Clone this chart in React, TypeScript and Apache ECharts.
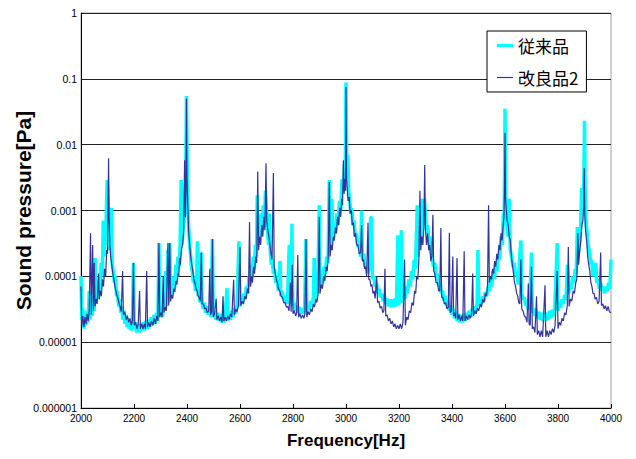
import React, { useEffect, useRef } from "react";
import * as echarts from "echarts";

const seriesNames = ["従来品", "改良品2"];
const yTickLabels = ["1", "0.1", "0.01", "0.001", "0.0001", "0.00001", "0.000001"];
const xMin = 2000;
const xMax = 4000;
const xStep = 200;

// 従来品 (conventional) : [frequency Hz, sound pressure Pa]
const conventional: [number, number][] = [
  [2000,1.0e-4],[2003,2.2e-5],[2007,3.2e-5],[2011,1.6e-5],[2015,2.6e-5],[2019,1.8e-5],[2023,3.0e-5],[2027,2.0e-5],[2031,6e-5],[2034,2.2e-5],
  [2038,3.5e-5],[2042,2.5e-5],[2046,5e-5],[2050,3.0e-5],[2053,1.9e-4],[2056,4e-5],[2060,6e-5],[2064,4.5e-5],[2068,9e-5],[2072,6e-5],
  [2076,1.6e-4],[2080,1e-4],[2084,7e-4],[2087,2e-4],[2090,4e-4],[2093,3e-4],[2096,1.2e-3],[2099,2.9e-3],[2102,1.5e-3],[2105,4e-4],
  [2108,2.5e-4],[2112,3e-4],[2115,1.1e-3],[2118,1.5e-4],[2122,1.2e-4],[2126,8e-5],[2130,1e-4],[2134,5e-5],[2138,6e-5],[2142,3.5e-5],
  [2146,4.5e-5],[2150,2.8e-5],[2154,3.5e-5],[2158,2.2e-5],[2162,3e-5],[2166,1.9e-5],[2170,2.6e-5],[2174,1.7e-5],[2178,2.3e-5],[2182,1.6e-5],
  [2186,2.2e-5],[2190,1.5e-5],[2194,2.0e-5],[2198,1.6e-4],[2201,1.6e-5],[2205,2.0e-5],[2210,1.4e-5],[2215,1.9e-5],[2220,1.4e-5],[2225,1.9e-5],
  [2230,1.5e-5],[2235,2e-5],[2240,1.5e-5],[2245,2.1e-5],[2250,1.6e-5],[2255,2.2e-5],[2260,1.7e-5],[2265,2.4e-5],[2270,1.8e-5],[2275,2.6e-5],
  [2280,1.9e-5],[2285,2.8e-5],[2290,2.1e-5],[2294,3.2e-4],[2297,2.5e-5],[2302,3.2e-5],[2307,2.4e-5],[2312,4e-5],[2316,3e-5],[2320,1.2e-4],
  [2323,3.5e-5],[2328,2.5e-4],[2331,4e-5],[2335,3.2e-4],[2338,5e-5],[2342,7e-5],[2346,5.5e-5],[2350,1e-4],[2354,7e-5],[2358,1.5e-4],
  [2362,1e-4],[2366,2e-4],[2370,1.4e-4],[2374,3e-4],[2378,2.9e-3],[2381,3e-4],[2385,5e-4],[2389,7e-4],[2392,1.2e-3],[2395,3e-3],
  [2398,5.5e-2],[2401,4e-3],[2404,9e-4],[2408,4e-4],[2412,2.5e-4],[2416,1.5e-4],[2420,1.2e-4],[2424,8e-5],[2428,9e-5],[2432,6e-5],
  [2436,7e-5],[2439,3.4e-4],[2442,5e-5],[2446,5.5e-5],[2450,4e-5],[2454,2.3e-4],[2457,4e-5],[2461,3.2e-5],[2466,4e-5],[2470,2.8e-5],
  [2475,3.5e-5],[2480,2.6e-5],[2485,3.2e-5],[2490,2.4e-5],[2496,3.7e-4],[2499,2.5e-5],[2504,3e-5],[2509,2.2e-5],[2514,2.8e-5],[2519,2.1e-5],
  [2524,2.7e-5],[2529,2.0e-5],[2534,2.6e-5],[2539,2.0e-5],[2544,2.6e-5],[2551,6.6e-5],[2554,2.1e-5],[2559,2.8e-5],[2564,2.2e-5],[2569,3e-5],
  [2574,2.4e-5],[2579,3.3e-5],[2584,2.7e-5],[2589,3.8e-5],[2596,3.4e-4],[2599,3.5e-5],[2604,4.5e-5],[2609,3.8e-5],[2614,5.5e-5],[2619,4.5e-5],
  [2624,7e-5],[2629,5.5e-5],[2634,1e-4],[2638,7e-5],[2642,1.5e-4],[2646,1e-4],[2650,2e-4],[2654,1.3e-4],[2658,3e-4],[2662,2e-4],
  [2665,1.7e-3],[2668,3e-4],[2672,6e-4],[2676,4e-4],[2680,9e-4],[2684,5e-4],[2688,1.2e-3],[2692,6e-4],[2696,2e-3],[2700,1e-3],
  [2704,5e-4],[2708,3e-4],[2711,9e-4],[2714,2.5e-4],[2718,1.5e-4],[2722,1.8e-4],[2726,1.1e-4],[2730,1.3e-4],[2735,8e-5],[2740,9e-5],
  [2745,6e-5],[2751,1.7e-4],[2754,5e-5],[2759,6e-5],[2764,4.5e-5],[2769,5e-5],[2774,3.8e-5],[2779,4.5e-5],[2786,3e-4],[2789,3.8e-5],
  [2793,4.2e-5],[2796,6.3e-4],[2799,3.5e-5],[2804,4e-5],[2809,3e-5],[2814,3.6e-5],[2819,2.8e-5],[2824,3.4e-5],[2829,2.7e-5],[2834,3.3e-5],
  [2839,2.7e-5],[2844,3.4e-5],[2849,3.7e-4],[2852,2.9e-5],[2857,3.7e-5],[2862,3.1e-5],[2867,4.2e-5],[2872,3.5e-5],[2877,5e-5],[2880,1.9e-4],
  [2883,4.5e-5],[2888,6.5e-5],[2893,5.5e-5],[2899,1.2e-3],[2902,7e-5],[2907,1e-4],[2912,8e-5],[2917,1.4e-4],[2922,1.1e-4],[2927,2e-4],
  [2932,1.6e-4],[2937,2.9e-3],[2940,2.5e-4],[2944,4e-4],[2947,1.5e-3],[2950,3.5e-4],[2955,6e-4],[2960,4.5e-4],[2965,9e-4],[2970,6e-4],
  [2975,1.4e-3],[2980,1e-3],[2985,3e-3],[2990,2e-3],[2994,5e-3],[2997,3e-3],[3000,8.8e-2],[3003,4e-3],[3007,7e-3],[3010,2e-3],
  [3014,1.4e-3],[3018,9e-4],[3022,1.1e-3],[3026,6e-4],[3030,7e-4],[3035,4e-4],[3040,4.5e-4],[3045,2.8e-4],[3050,3.2e-4],[3055,2e-4],
  [3059,1e-3],[3062,1.8e-4],[3067,2.2e-4],[3072,1.4e-4],[3077,1.6e-4],[3082,1.1e-4],[3087,1.3e-4],[3093,7.6e-4],[3097,8e-4],[3100,9e-5],
  [3105,1e-4],[3110,7e-5],[3115,8e-5],[3120,5.5e-5],[3125,6.5e-5],[3130,4.8e-5],[3135,5.5e-5],[3140,4.2e-5],[3145,5e-5],[3150,3.8e-5],
  [3155,4.6e-5],[3160,3.5e-5],[3165,4.5e-5],[3170,3.4e-5],[3175,4.5e-5],[3180,3.4e-5],[3185,4.6e-5],[3190,3.5e-5],[3196,4.2e-4],[3199,3.6e-5],
  [3203,5e-5],[3209,5e-4],[3212,4e-5],[3217,5.5e-5],[3222,4.5e-5],[3227,7e-5],[3232,5.5e-5],[3237,9e-5],[3242,7e-5],[3247,1.2e-4],
  [3252,9e-5],[3257,1.8e-4],[3262,1.3e-4],[3269,1.2e-3],[3272,2e-4],[3277,4e-4],[3282,3e-4],[3288,1.5e-3],[3292,6e-4],[3296,1.5e-3],
  [3300,8e-4],[3304,5e-4],[3308,6e-4],[3312,3.5e-4],[3316,4e-4],[3320,2.5e-4],[3325,2e-4],[3330,1.4e-4],[3335,1.6e-4],[3340,1e-4],
  [3345,1.1e-4],[3350,7e-5],[3355,8e-5],[3360,5.5e-5],[3365,6e-5],[3370,4.3e-5],[3375,5e-5],[3380,3.6e-5],[3385,4.2e-5],[3390,3e-5],
  [3395,3.6e-5],[3400,2.6e-5],[3405,3.2e-5],[3410,2.3e-5],[3415,2.9e-5],[3420,2.1e-5],[3425,2.7e-5],[3430,2e-5],[3435,2.6e-5],[3440,2e-5],
  [3445,2.7e-5],[3450,2.1e-5],[3455,2.8e-5],[3460,2.2e-5],[3465,3e-5],[3470,2.4e-5],[3475,3.2e-5],[3480,2.6e-5],[3485,3.5e-5],[3490,2.9e-5],
  [3495,4e-5],[3498,2.5e-4],[3501,3.5e-5],[3506,4.5e-5],[3511,3.8e-5],[3516,5e-5],[3521,4.2e-5],[3526,5.8e-5],[3531,5e-5],[3536,7e-5],
  [3540,6e-5],[3545,9e-5],[3550,7e-5],[3555,1.2e-4],[3560,9e-5],[3565,1.6e-4],[3570,1.2e-4],[3575,2.2e-4],[3580,1.8e-4],[3585,4e-4],
  [3590,3e-4],[3594,9e-4],[3597,6e-4],[3600,3.5e-2],[3603,1.5e-3],[3607,6e-4],[3612,4e-4],[3616,1.5e-3],[3620,2.5e-4],[3625,2e-4],
  [3630,1.4e-4],[3635,1.6e-4],[3640,1e-4],[3645,1.1e-4],[3650,7.5e-5],[3657,2.5e-4],[3660,3.5e-4],[3663,5.5e-5],[3668,4.4e-5],[3673,4.8e-5],
  [3678,3.6e-5],[3683,4.2e-5],[3688,3.1e-5],[3693,3.6e-5],[3700,2.3e-4],[3703,2.8e-5],[3708,3.3e-5],[3713,2.5e-5],[3718,3.1e-5],[3723,2.3e-5],
  [3728,2.9e-5],[3733,2.2e-5],[3738,2.8e-5],[3743,2.1e-5],[3748,2.8e-5],[3753,2.1e-5],[3758,2.8e-5],[3763,2.2e-5],[3768,3e-5],[3773,2.3e-5],
  [3778,3.1e-5],[3783,2.5e-5],[3788,3.4e-5],[3797,3.2e-4],[3800,3e-5],[3805,4e-5],[3810,3.3e-5],[3815,4.5e-5],[3820,3.8e-5],[3825,5.2e-5],
  [3830,4.4e-5],[3836,1.5e-4],[3840,5.5e-5],[3845,7.5e-5],[3850,6.5e-5],[3855,1e-4],[3860,8e-5],[3865,1.3e-4],[3869,1.1e-4],[3873,5.6e-4],
  [3877,2.2e-4],[3881,3e-4],[3885,5e-4],[3889,2.2e-3],[3893,1e-3],[3897,2e-3],[3900,2.3e-2],[3903,1.5e-3],[3907,6e-4],[3911,4e-4],
  [3915,2.7e-4],[3919,2.5e-4],[3923,1.5e-4],[3927,1.8e-4],[3932,1e-4],[3937,1.2e-4],[3943,1.6e-4],[3946,8e-5],[3951,9e-5],[3956,6.5e-5],
  [3961,8e-5],[3966,6e-5],[3971,7e-5],[3976,5.5e-5],[3981,7e-5],[3986,6e-5],[3991,8e-5],[3996,6.5e-5],[4000,1.8e-4],
];

// 改良品2 (improved 2) : [frequency Hz, sound pressure Pa]
const improved: [number, number][] = [
  [2000,7e-5],[2003,1.8e-5],[2007,2.5e-5],[2011,1.7e-5],[2015,2.4e-5],[2019,1.9e-5],[2023,2.7e-5],[2027,2.1e-5],[2031,3e-5],[2036,4.5e-4],
  [2039,2.6e-5],[2044,3e-4],[2047,3e-5],[2050,1.6e-4],[2053,3.5e-5],[2057,4.5e-5],[2061,3.8e-5],[2066,1.1e-4],[2069,4.5e-5],[2073,6e-5],
  [2077,5e-5],[2081,9e-5],[2085,7e-5],[2089,1.3e-4],[2093,1e-4],[2097,2.5e-4],[2100,2.2e-4],[2102,1e-3],[2104,6.2e-3],[2106,8e-4],
  [2109,3e-4],[2112,2e-4],[2116,1.5e-4],[2120,1.1e-4],[2124,9e-5],[2128,7e-5],[2132,6e-5],[2136,5e-5],[2140,4.5e-5],[2144,3.8e-5],
  [2148,3.4e-5],[2152,2.9e-5],[2157,1.2e-4],[2160,2.6e-5],[2165,2.9e-5],[2170,2.2e-5],[2175,2.5e-5],[2180,2e-5],[2185,2.3e-5],[2190,1.8e-5],
  [2194,2.1e-5],[2198,1.6e-4],[2201,1.8e-5],[2206,2e-5],[2211,1.6e-5],[2216,1.9e-5],[2221,6e-5],[2224,1.6e-5],[2229,1.9e-5],[2234,1.6e-5],
  [2239,1.9e-5],[2243,1.6e-5],[2248,1.2e-4],[2251,1.7e-5],[2256,2e-5],[2261,1.7e-5],[2266,2.1e-5],[2271,1.8e-5],[2276,2.3e-5],[2281,1.9e-5],
  [2286,2.5e-5],[2290,2.1e-5],[2294,3.2e-4],[2297,2.4e-5],[2302,2.8e-5],[2306,2.4e-5],[2310,1e-4],[2313,2.8e-5],[2318,3.4e-5],[2322,3e-5],
  [2328,3.2e-4],[2331,3.6e-5],[2335,3.2e-4],[2338,4.2e-5],[2342,5.2e-5],[2346,4.6e-5],[2350,6.5e-5],[2354,5.8e-5],[2358,8.5e-5],[2362,7.5e-5],
  [2366,1.1e-4],[2369,1e-4],[2372,1.9e-4],[2375,1.5e-4],[2379,2.5e-4],[2383,3e-4],[2387,4.5e-4],[2391,5.8e-3],[2394,8e-4],[2396,2e-3],
  [2398,5e-2],[2400,3e-3],[2403,1.2e-3],[2406,5e-4],[2410,3e-4],[2414,2e-4],[2418,1.5e-4],[2422,1.2e-4],[2426,9e-5],[2430,8e-5],
  [2434,6.5e-5],[2438,6e-5],[2442,5e-5],[2446,4.8e-5],[2450,4.2e-5],[2454,2.3e-4],[2457,3.8e-5],[2462,3.8e-5],[2467,3.2e-5],[2472,3.3e-5],
  [2477,2.8e-5],[2482,3e-5],[2486,1.3e-4],[2489,2.6e-5],[2493,2.9e-5],[2496,3.7e-4],[2499,2.4e-5],[2504,2.7e-5],[2510,4.6e-5],[2513,2.2e-5],
  [2518,2.5e-5],[2523,2.1e-5],[2528,2.4e-5],[2532,2e-5],[2536,5e-5],[2539,2.1e-5],[2544,2.4e-5],[2549,2.1e-5],[2554,2.5e-5],[2559,2.2e-5],
  [2564,2.7e-5],[2569,2.4e-5],[2576,8.9e-5],[2579,2.6e-5],[2584,3.2e-5],[2589,2.9e-5],[2594,3.6e-5],[2600,2.8e-4],[2603,3.6e-5],[2608,4.2e-5],
  [2613,3.8e-5],[2618,5e-5],[2623,4.5e-5],[2628,6.5e-5],[2632,5.5e-5],[2636,6.7e-4],[2639,7e-5],[2643,1e-4],[2647,8e-5],[2651,1.4e-4],
  [2655,1.1e-4],[2659,2e-4],[2663,1.6e-4],[2667,3.9e-3],[2670,2.5e-4],[2674,4e-4],[2678,3e-4],[2682,6e-4],[2686,4e-4],[2690,8e-4],
  [2694,5e-4],[2698,5.2e-3],[2701,7e-4],[2705,5e-4],[2709,4e-4],[2713,3e-4],[2717,2.2e-4],[2721,1.8e-4],[2726,3.7e-3],[2729,1.4e-4],
  [2733,1.1e-4],[2737,9e-5],[2741,8e-5],[2745,6.5e-5],[2750,6e-5],[2755,5e-5],[2760,4.8e-5],[2765,4e-5],[2770,4e-5],[2775,3.4e-5],
  [2780,3.5e-5],[2785,3e-5],[2790,8e-5],[2793,2.9e-5],[2797,1.5e-4],[2800,2.7e-5],[2805,3e-5],[2810,2.5e-5],[2814,2.8e-5],[2818,2.1e-4],
  [2821,2.4e-5],[2826,2.7e-5],[2831,2.3e-5],[2836,2.6e-5],[2841,2.3e-5],[2845,2.7e-5],[2849,3.7e-4],[2852,2.4e-5],[2857,2.9e-5],[2862,2.6e-5],
  [2867,3.2e-5],[2872,2.9e-5],[2877,3.8e-5],[2881,3.4e-5],[2886,4.5e-5],[2890,4e-5],[2895,5.5e-5],[2899,8e-4],[2902,5.5e-5],[2907,7.5e-5],
  [2911,6.5e-5],[2916,1e-4],[2920,8.5e-5],[2925,1.4e-4],[2929,1.2e-4],[2933,2e-4],[2937,2.7e-3],[2940,2e-4],[2944,3e-4],[2948,2.5e-4],
  [2952,4e-4],[2956,3.5e-4],[2960,5.5e-4],[2964,4.5e-4],[2968,8e-4],[2972,6e-4],[2976,1.1e-3],[2980,8e-4],[2984,1.5e-3],[2987,1.2e-3],
  [2990,5.8e-3],[2993,1.8e-3],[2996,3e-3],[2998,2e-3],[3000,7.5e-2],[3002,3e-3],[3005,2e-3],[3008,1.4e-3],[3012,1.6e-3],[3016,9e-4],
  [3020,1e-3],[3024,6e-4],[3028,6.5e-4],[3032,4e-4],[3036,4.5e-4],[3040,3e-4],[3045,3e-4],[3050,2.2e-4],[3055,2.3e-4],[3059,6e-4],
  [3062,1.7e-4],[3066,1.8e-4],[3070,1.3e-4],[3074,1.4e-4],[3078,1e-4],[3083,6.5e-4],[3086,9e-5],[3090,9e-5],[3094,7e-5],[3098,7.5e-5],
  [3102,5.5e-5],[3106,6e-5],[3110,4.6e-5],[3116,1e-4],[3119,4e-5],[3124,4.2e-5],[3129,3.3e-5],[3134,3.5e-5],[3139,2.8e-5],[3143,3e-5],
  [3147,1.3e-4],[3150,2.5e-5],[3155,2.6e-5],[3160,2.1e-5],[3165,2.3e-5],[3170,1.9e-5],[3175,2.1e-5],[3180,1.7e-5],[3185,1.9e-5],[3190,1.6e-5],
  [3195,1.8e-5],[3200,1.6e-5],[3205,1.9e-5],[3210,1.6e-5],[3215,2e-5],[3221,1.8e-4],[3224,1.8e-5],[3229,2.4e-5],[3234,2.2e-5],[3239,3e-5],
  [3244,2.8e-5],[3249,4e-5],[3254,3.6e-5],[3259,6e-5],[3263,5.5e-5],[3267,1e-4],[3271,9e-5],[3275,1.8e-4],[3279,2e-3],[3282,2.5e-4],
  [3286,4e-4],[3290,3e-4],[3294,6e-4],[3297,4.9e-3],[3300,5e-4],[3304,3e-4],[3308,4.5e-4],[3312,2.5e-4],[3316,3e-4],[3320,1.7e-4],
  [3324,2e-4],[3328,8.6e-4],[3331,1.2e-4],[3335,1.1e-4],[3340,8e-5],[3345,8e-5],[3350,6e-5],[3354,6e-5],[3358,5.4e-4],[3361,4.8e-5],
  [3366,4.8e-5],[3371,3.8e-5],[3376,4e-5],[3381,3.2e-5],[3386,3.4e-5],[3390,4.6e-4],[3393,2.8e-5],[3398,3e-5],[3403,2e-4],[3406,2.5e-5],
  [3410,2.8e-5],[3414,2.3e-5],[3419,1.9e-4],[3422,2.2e-5],[3427,2.6e-5],[3432,2.1e-5],[3437,2.5e-5],[3441,2.1e-5],[3446,2.4e-4],[3449,2.1e-5],
  [3454,2.5e-5],[3459,2.2e-5],[3464,2.6e-5],[3469,2.3e-5],[3474,2.7e-5],[3478,1.1e-4],[3481,2.5e-5],[3486,3e-5],[3491,2.7e-5],[3496,3.3e-5],
  [3501,3e-5],[3506,3.8e-5],[3511,3.4e-5],[3516,4.5e-5],[3521,4e-5],[3526,5.5e-5],[3530,5e-5],[3534,7e-5],[3538,1.2e-3],[3541,8e-5],
  [3545,1e-4],[3549,9e-5],[3553,1.3e-4],[3557,1.1e-4],[3561,1.7e-4],[3565,1.4e-4],[3569,2.2e-4],[3573,1.8e-4],[3577,3e-4],[3581,2.5e-4],
  [3585,4.5e-4],[3589,3.5e-4],[3593,6e-4],[3596,8e-4],[3598,2e-3],[3600,1.5e-2],[3602,1.5e-3],[3605,1e-3],[3608,7e-4],[3612,6e-4],
  [3616,4e-4],[3620,3.5e-4],[3624,2e-4],[3628,1.5e-4],[3632,1.1e-4],[3636,8e-5],[3640,7e-5],[3644,5.5e-5],[3648,5e-5],[3652,4e-5],
  [3656,3.8e-5],[3660,1.8e-4],[3663,3.2e-5],[3668,3e-5],[3673,2.5e-5],[3678,2.4e-5],[3683,2e-5],[3688,7.8e-5],[3691,1.9e-5],[3695,1.8e-5],
  [3700,1.4e-4],[3703,1.6e-5],[3708,1.7e-5],[3713,1.4e-5],[3719,5e-5],[3722,1.3e-5],[3727,1.5e-5],[3732,1.2e-5],[3737,1.5e-5],[3742,1.2e-5],
  [3751,7.3e-5],[3754,1.2e-5],[3759,1.5e-5],[3764,1.2e-5],[3769,1.5e-5],[3774,1.3e-5],[3779,1.6e-5],[3784,1.4e-5],[3789,1.8e-5],[3797,1.2e-4],
  [3800,1.6e-5],[3805,2e-5],[3810,1.8e-5],[3815,2.3e-5],[3820,2.1e-5],[3825,2.8e-5],[3830,2.6e-5],[3835,3.6e-5],[3839,2.8e-4],[3842,3.5e-5],
  [3847,4.5e-5],[3852,4.2e-5],[3857,6e-5],[3862,5.5e-5],[3867,8e-5],[3871,9e-5],[3875,4.5e-4],[3878,1.5e-4],[3882,2.5e-4],[3886,3.5e-4],
  [3890,6e-4],[3894,7e-4],[3897,1.2e-3],[3899,4.4e-3],[3901,9e-4],[3904,5e-4],[3908,3.5e-4],[3912,2e-4],[3916,1.5e-4],[3920,1.2e-4],
  [3924,8e-5],[3928,7e-5],[3932,5.5e-5],[3936,5.5e-5],[3940,4.5e-5],[3945,4.8e-5],[3950,3.8e-5],[3955,4.2e-5],[3961,2.3e-4],[3964,3.6e-5],
  [3969,3.8e-5],[3974,3.2e-5],[3979,3.6e-5],[3984,3e-5],[3989,3.5e-5],[3994,2.9e-5],[4000,2.8e-5],
];

const FONT = "'Liberation Sans', Arial, sans-serif";
const CJK = "'Noto Sans CJK JP', 'Noto Sans CJK SC', sans-serif";

export default function App() {
  const ref = useRef<HTMLDivElement>(null);
  useEffect(() => {
    if (!ref.current) return;
    const chart = echarts.init(ref.current, undefined, { renderer: "svg" });
    chart.setOption({
      animation: false,
      backgroundColor: "#ffffff",
      grid: {
        left: 81,
        right: 25,
        top: 13,
        bottom: 51,
        outerBoundsMode: "none",
        containLabel: false,
        show: true,
        borderColor: "#a0a0a0",
        borderWidth: 1,
        backgroundColor: "transparent",
      },
      legend: {
        orient: "vertical",
        left: 487,
        top: 31,
        padding: [6, 8, 6, 10],
        itemGap: 15,
        itemWidth: 16,
        itemHeight: 20,
        backgroundColor: "#ffffff",
        borderColor: "#000000",
        borderWidth: 1,
        borderRadius: 0,
        textStyle: { fontFamily: CJK, fontSize: 17, color: "#000" },
        data: [
          { name: seriesNames[0], icon: "path://M0,0h16v3h-16z", itemStyle: { color: "#00ffff" } },
          { name: seriesNames[1], icon: "path://M0,0h16v1.2h-16z", itemStyle: { color: "#333399" } },
        ],
      },
      xAxis: {
        type: "value",
        min: xMin,
        max: xMax,
        interval: xStep,
        name: "Frequency[Hz]",
        nameLocation: "middle",
        nameGap: 24,
        nameMoveOverlap: false,
        nameTextStyle: { fontFamily: FONT, fontSize: 17, fontWeight: "bold", color: "#000" },
        axisLine: { show: true, lineStyle: { color: "#000", width: 1 } },
        axisTick: { show: true, inside: true, length: 4, lineStyle: { color: "#000" } },
        axisLabel: {
          fontFamily: FONT,
          fontSize: 10,
          color: "#000",
          margin: 5,
          formatter: (v: number) => String(v),
        },
        splitLine: { show: false },
      },
      yAxis: {
        type: "log",
        logBase: 10,
        min: 1e-6,
        max: 1,
        name: "Sound pressure[Pa]",
        nameLocation: "middle",
        nameGap: 47,
        nameMoveOverlap: false,
        nameTextStyle: { fontFamily: FONT, fontSize: 21, fontWeight: "bold", color: "#000" },
        axisLine: { show: true, lineStyle: { color: "#000", width: 1 } },
        axisTick: { show: false },
        axisLabel: {
          fontFamily: FONT,
          fontSize: 10.5,
          color: "#000",
          margin: 4,
          formatter: (v: number) => {
            const i = Math.round(-Math.log10(v));
            return yTickLabels[i] ?? "";
          },
        },
        splitLine: { show: true, lineStyle: { color: "#222", width: 1 } },
      },
      series: [
        {
          name: seriesNames[0],
          type: "line",
          data: conventional,
          symbol: "none",
          lineStyle: { color: "#00ffff", width: 3.5 },
          itemStyle: { color: "#00ffff" },
          z: 2,
        },
        {
          name: seriesNames[1],
          type: "line",
          data: improved,
          symbol: "none",
          lineStyle: { color: "#333399", width: 1.2 },
          itemStyle: { color: "#333399" },
          z: 3,
        },
      ],
    });
    return () => chart.dispose();
  }, []);
  return (
    <div
      ref={ref}
      style={{ position: "fixed", left: 0, top: 0, width: 636, height: 459, background: "#fff" }}
    />
  );
}
